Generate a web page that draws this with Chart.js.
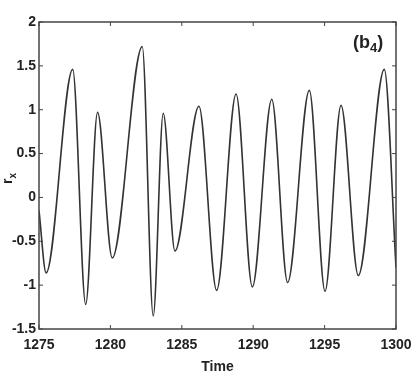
<!DOCTYPE html>
<html>
<head>
<meta charset="utf-8">
<script src="https://cdn.jsdelivr.net/npm/chart.js@4.4.0/dist/chart.umd.min.js"></script>
<style>
  html, body { margin: 0; padding: 0; background: #fff; }
  #wrap { width: 420px; height: 376px; }
</style>
</head>
<body>
<div id="wrap"><canvas id="chart" width="420" height="376"></canvas></div>
<script>
// ── Data (turning points of r_x) ────────────────────────────────
const times = [1275, 1275.5, 1277.36, 1278.27, 1279.1, 1280.13, 1282.23, 1283.0, 1283.7,
  1284.52, 1286.2, 1287.44, 1288.8, 1289.94, 1291.3, 1292.41, 1293.93, 1295.03,
  1296.15, 1297.36, 1299.18, 1300];
const rx = [-0.15, -0.86, 1.46, -1.22, 0.97, -0.69, 1.72, -1.35, 0.96,
  -0.61, 1.04, -1.06, 1.18, -1.02, 1.12, -0.97, 1.22, -1.07,
  1.05, -0.89, 1.46, -0.8];
const xTicks = [1275, 1280, 1285, 1290, 1295, 1300];
const yTicks = [-1.5, -1, -0.5, 0, 0.5, 1, 1.5, 2];

const FONT = '"Liberation Sans Narrow", "Liberation Sans", Arial, sans-serif';
const INK = '#222';

// ── Frame + inward ticks, matlab style ──────────────────────────
const framePlugin = {
  id: 'frame',
  afterDraw(chart) {
    const { ctx, chartArea: a, scales: { x, y } } = chart;
    ctx.save();
    ctx.strokeStyle = '#444';
    ctx.lineWidth = 1.5;
    ctx.strokeRect(a.left, a.top, a.right - a.left, a.bottom - a.top);
    ctx.lineWidth = 1;
    const len = 4;
    xTicks.forEach(v => {
      const px = x.getPixelForValue(v);
      ctx.beginPath();
      ctx.moveTo(px, a.bottom); ctx.lineTo(px, a.bottom - len);
      ctx.moveTo(px, a.top); ctx.lineTo(px, a.top + len);
      ctx.stroke();
    });
    yTicks.forEach(v => {
      const py = y.getPixelForValue(v);
      ctx.beginPath();
      ctx.moveTo(a.left, py); ctx.lineTo(a.left + len, py);
      ctx.moveTo(a.right, py); ctx.lineTo(a.right - len, py);
      ctx.stroke();
    });

    // y label "r_x", rotated
    ctx.fillStyle = INK;
    ctx.translate(12, 184);
    ctx.rotate(-Math.PI / 2);
    ctx.font = 'bold 14px ' + FONT;
    ctx.textBaseline = 'alphabetic';
    ctx.textAlign = 'left';
    ctx.fillText('r', 0, 0);
    const w = ctx.measureText('r').width;
    ctx.font = 'bold 10px ' + FONT;
    ctx.fillText('x', w, 4);
    ctx.restore();

    // panel tag (b4)
    ctx.save();
    ctx.fillStyle = INK;
    ctx.textBaseline = 'alphabetic';
    ctx.font = 'bold 18px ' + FONT;
    let tx = 353;
    ctx.fillText('(b', tx, 48);
    tx += ctx.measureText('(b').width;
    ctx.font = 'bold 13px ' + FONT;
    ctx.fillText('4', tx, 52);
    tx += ctx.measureText('4').width;
    ctx.font = 'bold 18px ' + FONT;
    ctx.fillText(')', tx, 48);
    ctx.restore();
  }
};

new Chart(document.getElementById('chart'), {
  type: 'line',
  data: {
    datasets: [{
      data: times.map((t, i) => ({ x: t, y: rx[i] })),
      borderColor: '#333',
      borderWidth: 1.6,
      pointRadius: 0,
      fill: false,
      cubicInterpolationMode: 'monotone',
    }],
  },
  options: {
    responsive: false,
    animation: false,
    layout: { padding: { left: 0, right: 24, top: 22, bottom: 0 } },
    plugins: { legend: { display: false }, tooltip: { enabled: false } },
    scales: {
      x: {
        type: 'linear',
        min: 1275,
        max: 1300,
        afterFit: s => { s.height = 47; },
        afterBuildTicks: s => { s.ticks = xTicks.map(v => ({ value: v })); },
        grid: { display: false, drawTicks: false },
        border: { display: false },
        ticks: {
          color: INK,
          padding: 8,
          maxRotation: 0,
          callback: v => String(v),
          font: { family: FONT, size: 14, weight: 'bold' },
        },
        title: {
          display: true,
          text: 'Time',
          color: INK,
          padding: { top: 0, bottom: 0 },
          font: { family: FONT, size: 14, weight: 'bold' },
        },
      },
      y: {
        min: -1.5,
        max: 2,
        afterFit: s => { s.width = 39; },
        afterBuildTicks: s => { s.ticks = yTicks.map(v => ({ value: v })); },
        grid: { display: false, drawTicks: false },
        border: { display: false },
        ticks: {
          color: INK,
          padding: 3,
          callback: v => String(v),
          font: { family: FONT, size: 14, weight: 'bold' },
        },
      },
    },
  },
  plugins: [framePlugin],
});
</script>
</body>
</html>
